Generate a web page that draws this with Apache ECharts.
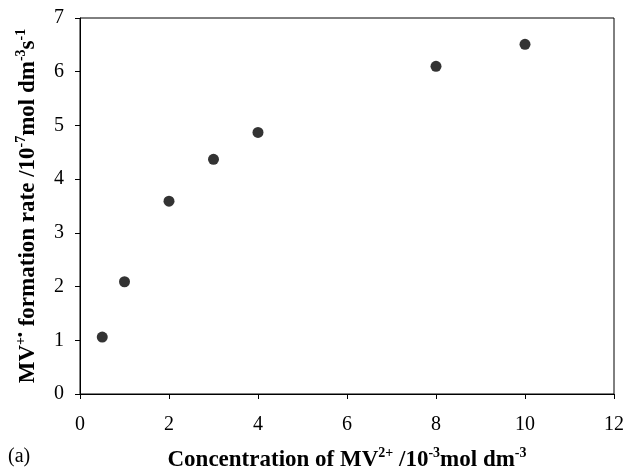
<!DOCTYPE html>
<html>
<head>
<meta charset="utf-8">
<script src="https://cdn.jsdelivr.net/npm/echarts@6/dist/echarts.min.js"></script>
<style>
  html, body { margin: 0; padding: 0; background: #fff; }
  #myChart { width: 628px; height: 470px; }
</style>
</head>
<body>
<div id="myChart"></div>
<script>
// 数据
const concentration = [0.5, 1, 2, 3, 4, 8, 10];
const formationRate = [1.06, 2.09, 3.59, 4.37, 4.87, 6.1, 6.51];
const xTicks = [0, 2, 4, 6, 8, 10, 12];
const yTicks = [0, 1, 2, 3, 4, 5, 6, 7];

const points = concentration.map((c, i) => [c, formationRate[i]]);
const serif = "'Liberation Serif', 'DejaVu Serif', serif";

// 上标用富文本
const richSup = {
  b: { fontFamily: serif, fontWeight: "bold", fontSize: 23, lineHeight: 28, color: "#000" },
  sup: { fontFamily: serif, fontWeight: "bold", fontSize: 14, lineHeight: 14, verticalAlign: "top", color: "#000" }
};

let myChart = echarts.init(document.getElementById("myChart"));
myChart.setOption({
  animation: false,
  grid: {
    left: 80, right: 14, top: 18, bottom: 76,
    outerBoundsMode: "none",
    containLabel: false,
    show: true, borderColor: "#000", borderWidth: 1
  },
  xAxis: {
    type: "value",
    min: xTicks[0],
    max: xTicks[xTicks.length - 1],
    interval: 2,
    splitLine: { show: false },
    axisLine: { lineStyle: { color: "#000", width: 1 } },
    axisTick: { show: true, length: 5, lineStyle: { color: "#000" } },
    axisLabel: { color: "#000", fontFamily: serif, fontSize: 20, margin: 21 },
    name: "{b|Concentration of MV}{sup|2+}{b| /10}{sup|-3}{b|mol dm}{sup|-3}",
    nameLocation: "middle",
    nameGap: 52,
    nameTextStyle: { rich: richSup }
  },
  yAxis: {
    type: "value",
    min: yTicks[0],
    max: yTicks[yTicks.length - 1],
    interval: 1,
    splitLine: { show: false },
    axisLine: { show: true, lineStyle: { color: "#000", width: 1 } },
    axisTick: { show: true, length: 5, lineStyle: { color: "#000" } },
    axisLabel: { color: "#000", fontFamily: serif, fontSize: 20, margin: 16 },
    name: "{b|MV}{sup|+•}{b| formation rate /10}{sup|-7}{b|mol dm}{sup|-3}{b|s}{sup|-1}",
    nameLocation: "middle",
    nameGap: 38,
    nameTextStyle: { rich: richSup }
  },
  graphic: [
    {
      type: "text",
      left: 8,
      top: 447,
      style: { text: "(a)", fontFamily: serif, fontSize: 20, fill: "#000" }
    }
  ],
  series: [
    {
      type: "scatter",
      data: points,
      symbol: "circle",
      symbolSize: 11,
      itemStyle: { color: "#000" }
    }
  ]
});
</script>
</body>
</html>
